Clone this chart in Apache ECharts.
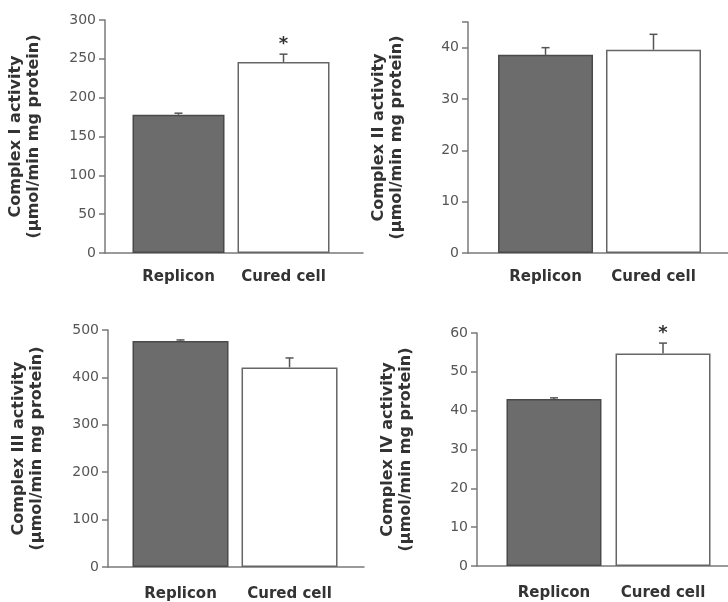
<!DOCTYPE html>
<html>
<head>
<meta charset="utf-8">
<script src="https://cdn.jsdelivr.net/npm/echarts@6/dist/echarts.min.js"></script>
<style>
html,body{margin:0;padding:0;background:#fff;}
#chart{width:728px;height:602px;}
</style>
</head>
<body>
<div id="chart"></div>
<script>
const categories = ['Replicon', 'Cured cell'];

const complexI = [178, 246];
const complexIErr = [2, 10];
const complexISig = [false, true];
const complexITicks = [0, 50, 100, 150, 200, 250, 300];

const complexII = [38.6, 39.6];
const complexIIErr = [1.4, 3.0];
const complexIISig = [false, false];
const complexIITicks = [0, 10, 20, 30, 40];

const complexIII = [477, 421];
const complexIIIErr = [2, 20];
const complexIIISig = [false, false];
const complexIIITicks = [0, 100, 200, 300, 400, 500];

const complexIV = [43, 54.7];
const complexIVErr = [0.3, 2.7];
const complexIVSig = [false, true];
const complexIVTicks = [0, 10, 20, 30, 40, 50, 60];

const titles = [
  'Complex I activity\n(\u03bcmol/min mg protein)',
  'Complex II activity\n(\u03bcmol/min mg protein)',
  'Complex III activity\n(\u03bcmol/min mg protein)',
  'Complex IV activity\n(\u03bcmol/min mg protein)'
];

const panels = [
  {vals: complexI, errs: complexIErr, sig: complexISig, ticks: complexITicks, grid: {left:105, top:20, width:258, height:233}, ymax:300, xmin:-0.70, xmax:1.757, bw:92, lm:17},
  {vals: complexII, errs: complexIIErr, sig: complexIISig, ticks: complexIITicks, grid: {left:468, top:22, width:260, height:231}, ymax:45, xmin:-0.718, xmax:1.69, bw:95, lm:17},
  {vals: complexIII, errs: complexIIIErr, sig: complexIIISig, ticks: complexIIITicks, grid: {left:108, top:330, width:256, height:237}, ymax:500, xmin:-0.665, xmax:1.683, bw:96, lm:20},
  {vals: complexIV, errs: complexIVErr, sig: complexIVSig, ticks: complexIVTicks, grid: {left:477, top:333, width:251, height:233}, ymax:60, xmin:-0.706, xmax:1.596, bw:95, lm:20}
];

const FONT = 'DejaVu Sans';
const axisColor = '#7a7a7a';
const grids = [], xAxes = [], yAxes = [], series = [];

panels.forEach((p, i) => {
  grids.push(Object.assign({containLabel:false}, p.grid));
  xAxes.push({
    type: 'value', gridIndex: i, min: p.xmin, max: p.xmax,
    axisLine: {show: true, onZero: false, lineStyle: {color: axisColor, width: 1.5}},
    axisTick: {show: false},
    splitLine: {show: false},
    axisLabel: {
      customValues: [0, 1],
      formatter: v => categories[Math.round(v)] || '',
      fontFamily: FONT, fontWeight: 'bold', fontSize: 15, color: '#333', margin: p.lm
    }
  });
  const tickVals = p.ticks.indexOf(p.ymax) >= 0 ? p.ticks : p.ticks.concat([p.ymax]);
  yAxes.push({
    type: 'value', gridIndex: i, min: 0, max: p.ymax,
    name: titles[i], nameLocation: 'middle', nameRotate: 90, nameGap: 62,
    nameTextStyle: {fontFamily: FONT, fontWeight: 'bold', fontSize: 16, color: '#333', lineHeight: 18},
    axisLine: {show: true, onZero: false, lineStyle: {color: axisColor, width: 1.5}},
    axisTick: {show: true, length: 6, customValues: tickVals, lineStyle: {color: axisColor, width: 1.5}},
    splitLine: {show: false},
    axisLabel: {customValues: p.ticks, fontFamily: FONT, fontSize: 14, color: '#555', margin: 9}
  });
  series.push({
    type: 'bar', xAxisIndex: i, yAxisIndex: i, barWidth: p.bw,
    data: p.vals.map((v, k) => ({
      value: [k, v],
      itemStyle: k === 0
        ? {color: '#6c6c6c', borderColor: '#4a4a4a', borderWidth: 1.5}
        : {color: '#ffffff', borderColor: '#666666', borderWidth: 1.5}
    })),
    silent: true, animation: false
  });
  series.push({
    type: 'custom', xAxisIndex: i, yAxisIndex: i, animation: false, silent: true,
    data: p.vals.map((v, k) => [k, v, v + p.errs[k], p.sig[k] ? 1 : 0]),
    renderItem: function (params, api) {
      const x = api.value(0);
      const b = api.coord([x, api.value(1)]);
      const t = api.coord([x, api.value(2)]);
      const children = [
        {type: 'line', shape: {x1: b[0], y1: b[1], x2: t[0], y2: t[1]}, style: {stroke: '#555', lineWidth: 1.5}},
        {type: 'line', shape: {x1: t[0] - 4, y1: t[1], x2: t[0] + 4, y2: t[1]}, style: {stroke: '#555', lineWidth: 1.5}}
      ];
      if (api.value(3)) {
        children.push({type: 'text', style: {text: '*', x: t[0], y: t[1] - 10, align: 'center', verticalAlign: 'middle', font: 'bold 18px "DejaVu Sans"', fill: '#333'}});
      }
      return {type: 'group', children: children};
    }
  });
});

const chart = echarts.init(document.getElementById('chart'), null, {renderer: 'canvas'});
chart.setOption({
  animation: false,
  backgroundColor: '#ffffff',
  grid: grids, xAxis: xAxes, yAxis: yAxes, series: series
});
</script>
</body>
</html>
